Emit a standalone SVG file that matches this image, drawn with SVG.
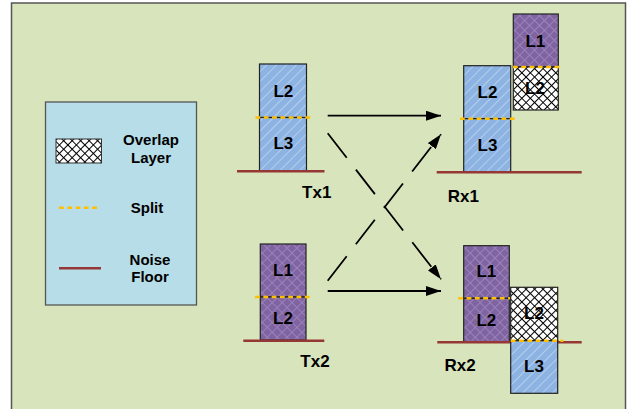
<svg xmlns="http://www.w3.org/2000/svg" width="641" height="409" viewBox="0 0 641 409">
<style>
text{font-family:"Liberation Sans",Arial,sans-serif;font-weight:bold;fill:#000;text-anchor:middle}
.lbl{font-size:17px}
.leg{font-size:15px}
.box{stroke:#222;stroke-width:1.2}
.blue{fill:url(#blueHatch)}
.purple{fill:url(#purpleHatch)}
.over{fill:url(#overHatch)}
.split{stroke:#FFC000;stroke-width:2.5;stroke-dasharray:4.8 3.5;fill:none}
.noise{stroke:#953735;stroke-width:2.6;fill:none}
.arrow{stroke:#000;stroke-width:1.8;fill:none;marker-end:url(#ah)}
.dash{stroke-dasharray:31 15}
</style>
<defs>
<pattern id="blueHatch" patternUnits="userSpaceOnUse" width="7" height="7" patternTransform="rotate(45)">
<rect width="7" height="7" fill="#8DB3E2"/>
<line x1="3.5" y1="0" x2="3.5" y2="7" stroke="#ffffff" stroke-opacity="0.35" stroke-width="1"/>
</pattern>
<pattern id="purpleHatch" patternUnits="userSpaceOnUse" width="7" height="7" patternTransform="rotate(45)">
<rect width="7" height="7" fill="#8064A2"/>
<path d="M0,0.5H7M0.5,0V7" stroke="#9C86BA" stroke-width="0.9" fill="none"/>
</pattern>
<pattern id="overHatch" patternUnits="userSpaceOnUse" width="6" height="6" patternTransform="rotate(45)">
<rect width="6" height="6" fill="#ffffff"/>
<path d="M0,0.5H6M0.5,0V6" stroke="#000" stroke-width="1" fill="none"/>
</pattern>
<marker id="ah" markerUnits="userSpaceOnUse" markerWidth="15" markerHeight="10" refX="15" refY="5" orient="auto" viewBox="0 0 15 10">
<path d="M0,0L15,5L0,10z" fill="#000"/>
</marker>
</defs>

<rect x="11.5" y="3" width="614" height="420" fill="#D8E4BC" stroke="#555" stroke-width="1.5"/>

<g id="legend">
<rect x="45.5" y="102" width="151" height="203" fill="#B7DDE8" stroke="#555" stroke-width="1.3"/>
<rect x="56" y="139" width="45.5" height="24" class="over" stroke="#333" stroke-width="1"/>
<text class="leg" x="151" y="144.5">Overlap</text>
<text class="leg" x="151" y="163">Layer</text>
<line x1="59" y1="207.7" x2="100" y2="207.7" class="split"/>
<text class="leg" x="147" y="213">Split</text>
<line x1="59" y1="268.3" x2="101" y2="268.3" class="noise"/>
<text class="leg" x="150" y="264.7">Noise</text>
<text class="leg" x="150" y="282.3">Floor</text>
</g>

<g id="tx1">
<rect x="259.5" y="64" width="47" height="53.5" class="box blue"/>
<rect x="259.5" y="117.5" width="47" height="53.5" class="box blue"/>
<line x1="255.5" y1="117.5" x2="312" y2="117.5" class="split"/>
<line x1="237" y1="171.3" x2="324.5" y2="171.3" class="noise"/>
<text class="lbl" x="283.3" y="96.5">L2</text>
<text class="lbl" x="283.3" y="149">L3</text>
<text class="lbl" x="316.7" y="198">Tx1</text>
</g>

<g id="rx1">
<rect x="463.7" y="65.7" width="47" height="53" class="box blue"/>
<rect x="463.7" y="118.7" width="47" height="53.3" class="box blue"/>
<line x1="460" y1="118.7" x2="516.7" y2="118.7" class="split"/>
<rect x="513.3" y="14" width="45" height="53" class="box purple"/>
<rect x="513.3" y="67" width="45" height="43" class="box over"/>
<line x1="513" y1="67" x2="561.7" y2="67" class="split"/>
<line x1="436.7" y1="172.3" x2="581.7" y2="172.3" class="noise"/>
<text class="lbl" x="487.5" y="98.3">L2</text>
<text class="lbl" x="487.5" y="151">L3</text>
<text class="lbl" x="535.3" y="46.7">L1</text>
<text class="lbl" x="535" y="94">L2</text>
<text class="lbl" x="463.3" y="201.5">Rx1</text>
</g>

<g id="tx2">
<rect x="260.3" y="244" width="45.7" height="53" class="box purple"/>
<rect x="260.3" y="297" width="45.7" height="43" class="box purple"/>
<line x1="255" y1="297" x2="311.7" y2="297" class="split"/>
<line x1="243.3" y1="340.7" x2="324.3" y2="340.7" class="noise"/>
<text class="lbl" x="283" y="276">L1</text>
<text class="lbl" x="283" y="324">L2</text>
<text class="lbl" x="315" y="366.7">Tx2</text>
</g>

<g id="rx2">
<rect x="463.7" y="245.7" width="45.6" height="52.6" class="box purple"/>
<rect x="463.7" y="298.3" width="45.6" height="43.4" class="box purple"/>
<line x1="458.3" y1="298.3" x2="515" y2="298.3" class="split"/>
<line x1="437.3" y1="342.3" x2="581.7" y2="342.3" class="noise"/>
<rect x="510.7" y="287.3" width="47" height="53.4" class="box over"/>
<rect x="510.7" y="340.7" width="47" height="52.6" class="box blue"/>
<line x1="510.7" y1="340.7" x2="563.3" y2="340.7" class="split"/>
<text class="lbl" x="486.3" y="277.3">L1</text>
<text class="lbl" x="486.3" y="326">L2</text>
<text class="lbl" x="534" y="319">L2</text>
<text class="lbl" x="534" y="372.3">L3</text>
<text class="lbl" x="460" y="370.7">Rx2</text>
</g>

<g id="connectors">
<path d="M327.7,115.7H441" class="arrow"/>
<path d="M327.7,291H441" class="arrow"/>
<path d="M327.7,133.3L441,279.3" class="arrow dash"/>
<path d="M327.7,280.7L441,134.3" class="arrow dash"/>
</g>
</svg>
